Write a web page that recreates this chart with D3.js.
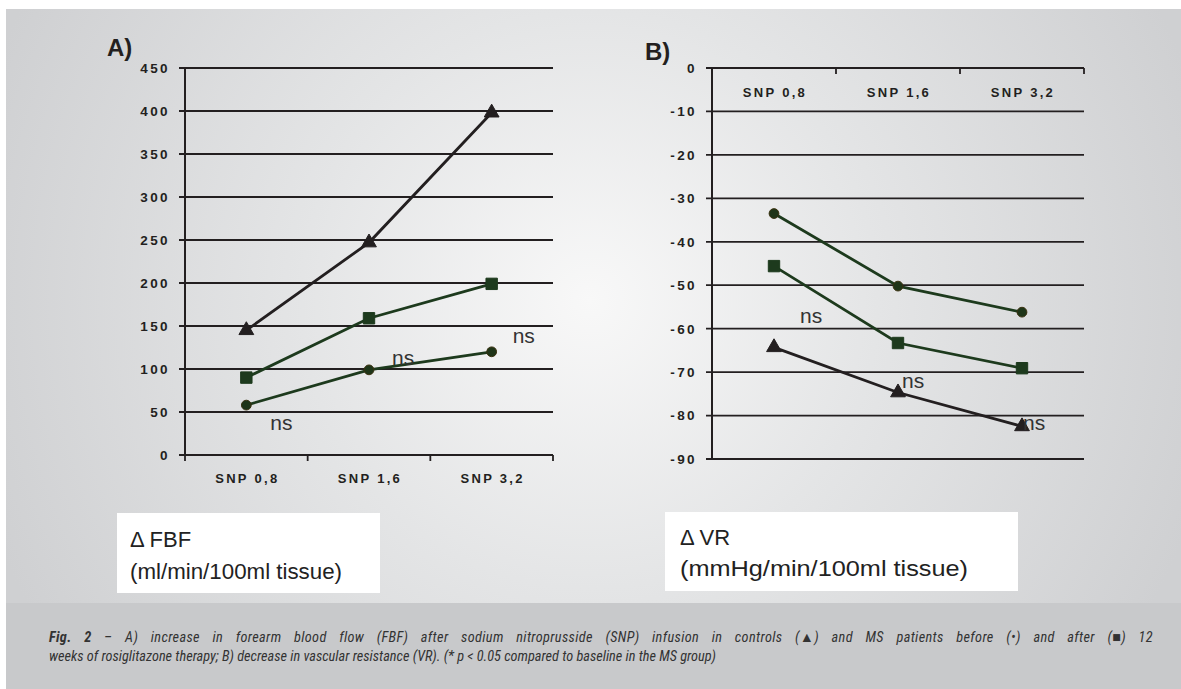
<!DOCTYPE html>
<html>
<head>
<meta charset="utf-8">
<script src="https://cdn.jsdelivr.net/npm/d3@7"></script>
<style>
  body { margin: 0; background: #fff; }
  svg { display: block; }
  .tick-label { font-family: "Liberation Sans", Arial, sans-serif; font-weight: bold; font-size: 13.5px; letter-spacing: 2.4px; fill: #231f20; }
  .cat-label { font-family: "Liberation Sans", Arial, sans-serif; font-weight: bold; font-size: 13px; letter-spacing: 2.3px; fill: #231f20; }
  .panel-label { font-family: "Liberation Sans", Arial, sans-serif; font-weight: bold; font-size: 24px; fill: #231f20; }
  .ns { font-family: "Liberation Sans", Arial, sans-serif; font-size: 21px; fill: #333; }
  .unit { font-family: "Liberation Sans", Arial, sans-serif; font-size: 22px; fill: #222; }
  .caption { font-family: "Roboto Condensed", "Liberation Sans Narrow", sans-serif; font-style: italic; font-size: 14.3px; fill: #333; }
</style>
</head>
<body>
<svg id="chart" width="1181" height="689"></svg>
<script>
// ---- data ----
const categories = ["SNP 0,8", "SNP 1,6", "SNP 3,2"];

// A) forearm blood flow increase
const fbfTicks = [0, 50, 100, 150, 200, 250, 300, 350, 400, 450];
const fbfControls = [145, 247, 398];
const fbfBefore = [58, 99, 120];
const fbfAfter = [90, 159, 199];
const fbfNs = [
  { cat: 0, value: 29, dx: 24 },
  { cat: 1, value: 105, dx: 23 },
  { cat: 2, value: 130, dx: 21 },
];

// B) vascular resistance decrease
const vrTicks = [0, -10, -20, -30, -40, -50, -60, -70, -80, -90];
const vrControls = [-64.3, -74.7, -82.5];
const vrBefore = [-33.5, -50.2, -56.2];
const vrAfter = [-45.6, -63.3, -69.1];
const vrNs = [
  { cat: 0, value: -58.7, dx: 26 },
  { cat: 1, value: -73.7, dx: 4 },
  { cat: 2, value: -83.3, dx: 1 },
];

const captionFig = "Fig. 2";
const captionLine1 = " \u2013 A) increase in forearm blood flow (FBF) after sodium nitroprusside (SNP) infusion in controls (\u25B2) and MS patients before (\u2022) and after (\u25A0) 12";
const captionLine2 = "weeks of rosiglitazone therapy; B)  decrease in vascular resistance (VR). (* p < 0.05 compared to baseline in the MS group)";

const ink = "#231f20";
const green = "#1d3a1d";

const svg = d3.select("#chart");

// ---- background ----
const defs = svg.append("defs");
const grad = defs.append("radialGradient")
  .attr("id", "bg")
  .attr("gradientUnits", "userSpaceOnUse")
  .attr("cx", 590).attr("cy", 300).attr("r", 640);
grad.append("stop").attr("offset", 0).attr("stop-color", "#f8f8f8");
grad.append("stop").attr("offset", 0.45).attr("stop-color", "#e4e5e6");
grad.append("stop").attr("offset", 1).attr("stop-color", "#cfd0d2");

svg.append("rect").attr("x", 6).attr("y", 9).attr("width", 1175).attr("height", 594).attr("fill", "url(#bg)");
svg.append("rect").attr("x", 6).attr("y", 603).attr("width", 1175).attr("height", 86).attr("fill", "#c8c9cb");

// ---- helpers ----
function drawSeries(g, x, y, values, color, symbolType, size, fill, stroke) {
  const line = d3.line()
    .x((d, i) => x(categories[i]) + x.bandwidth() / 2)
    .y((d) => y(d));
  g.append("path")
    .datum(values)
    .attr("fill", "none")
    .attr("stroke", color)
    .attr("stroke-width", 2.8)
    .attr("d", line);
  g.selectAll(null)
    .data(values)
    .enter()
    .append("path")
    .attr("d", d3.symbol().type(symbolType).size(size))
    .attr("transform", (d, i) => `translate(${x(categories[i]) + x.bandwidth() / 2},${y(d)})`)
    .attr("fill", fill)
    .attr("stroke", stroke)
    .attr("stroke-width", 1);
}

function drawNs(g, x, y, notes) {
  g.selectAll(null)
    .data(notes)
    .enter()
    .append("text")
    .attr("class", "ns")
    .attr("x", (d) => x(categories[d.cat]) + x.bandwidth() / 2 + d.dx)
    .attr("y", (d) => y(d.value))
    .text("ns");
}

function drawYAxis(g, y, ticks, x0, x1) {
  // gridlines
  g.selectAll(null)
    .data(ticks)
    .enter()
    .append("line")
    .attr("x1", x0 - 6).attr("x2", x1)
    .attr("y1", (d) => y(d)).attr("y2", (d) => y(d))
    .attr("stroke", ink).attr("stroke-width", 1.8);
  // axis line
  g.append("line")
    .attr("x1", x0).attr("x2", x0)
    .attr("y1", y.range()[0]).attr("y2", y.range()[1])
    .attr("stroke", ink).attr("stroke-width", 2);
  g.selectAll(null)
    .data(ticks)
    .enter()
    .append("text")
    .attr("class", "tick-label")
    .attr("x", x0 - 15)
    .attr("y", (d) => y(d))
    .attr("dy", "0.36em")
    .attr("text-anchor", "end")
    .text((d) => d);
}

function drawCatAxis(g, x, yAxis, dir, labelY) {
  const edges = categories.map((c) => x(c)).concat([x.range()[1]]);
  g.selectAll(null)
    .data(edges)
    .enter()
    .append("line")
    .attr("x1", (d) => d).attr("x2", (d) => d)
    .attr("y1", yAxis).attr("y2", yAxis + 6 * dir)
    .attr("stroke", ink).attr("stroke-width", 1.8);
  g.selectAll(null)
    .data(categories)
    .enter()
    .append("text")
    .attr("class", "cat-label")
    .attr("x", (d) => x(d) + x.bandwidth() / 2 + 1)
    .attr("y", labelY)
    .attr("text-anchor", "middle")
    .text((d) => d);
}

// ---- Chart A ----
const gA = svg.append("g");
const xA = d3.scaleBand().domain(categories).range([185, 553]);
const yA = d3.scaleLinear().domain([0, 450]).range([455, 68]);

drawYAxis(gA, yA, fbfTicks, 185, 553);
drawCatAxis(gA, xA, yA(0), 1, 483);
drawSeries(gA, xA, yA, fbfControls, ink, d3.symbolTriangle, 95, ink, ink);
drawSeries(gA, xA, yA, fbfAfter, green, d3.symbolSquare, 130, green, green);
drawSeries(gA, xA, yA, fbfBefore, green, d3.symbolCircle, 75, "#1f3518", "#3a3210");
drawNs(gA, xA, yA, fbfNs);
gA.append("text").attr("class", "panel-label").attr("x", 107).attr("y", 56).text("A)");

// ---- Chart B ----
const gB = svg.append("g");
const xB = d3.scaleBand().domain(categories).range([712, 1084]);
const yB = d3.scaleLinear().domain([-90, 0]).range([459, 68]);

drawYAxis(gB, yB, vrTicks, 712, 1084);
drawCatAxis(gB, xB, yB(0), 1, 97);
drawSeries(gB, xB, yB, vrControls, ink, d3.symbolTriangle, 95, ink, ink);
drawSeries(gB, xB, yB, vrAfter, green, d3.symbolSquare, 130, green, green);
drawSeries(gB, xB, yB, vrBefore, green, d3.symbolCircle, 75, "#1f3518", "#3a3210");
drawNs(gB, xB, yB, vrNs);
gB.append("text").attr("class", "panel-label").attr("x", 645).attr("y", 60).text("B)");

// ---- unit boxes ----
const units = [
  { x: 117, y: 513, w: 263, h: 80, lines: ["\u0394 FBF", "(ml/min/100ml tissue)"], tx: 130, b1: 547, b2: 579, len: 212 },
  { x: 665, y: 512, w: 353, h: 79, lines: ["\u0394 VR", "(mmHg/min/100ml tissue)"], tx: 680, b1: 545, b2: 576, len: 288 },
];
units.forEach((u) => {
  svg.append("rect").attr("x", u.x).attr("y", u.y).attr("width", u.w).attr("height", u.h).attr("fill", "#fff");
  svg.append("text").attr("class", "unit").attr("x", u.tx).attr("y", u.b1).text(u.lines[0]);
  svg.append("text").attr("class", "unit").attr("x", u.tx).attr("y", u.b2)
    .attr("textLength", u.len).attr("lengthAdjust", "spacingAndGlyphs")
    .text(u.lines[1]);
});

// ---- caption (first line justified) ----
const cap1 = svg.append("text").attr("class", "caption").attr("x", 49).attr("y", 642)
  .style("letter-spacing", "0.35px");
cap1.append("tspan").attr("font-weight", "bold").text(captionFig);
cap1.append("tspan").text(captionLine1);
const natural = cap1.node().getComputedTextLength();
const spaces = (captionFig + captionLine1).split(" ").length - 1;
cap1.style("word-spacing", `${Math.max(0, (1104 - natural) / spaces)}px`);

svg.append("text").attr("class", "caption").attr("x", 49).attr("y", 661)
  .text(captionLine2);
</script>
</body>
</html>
